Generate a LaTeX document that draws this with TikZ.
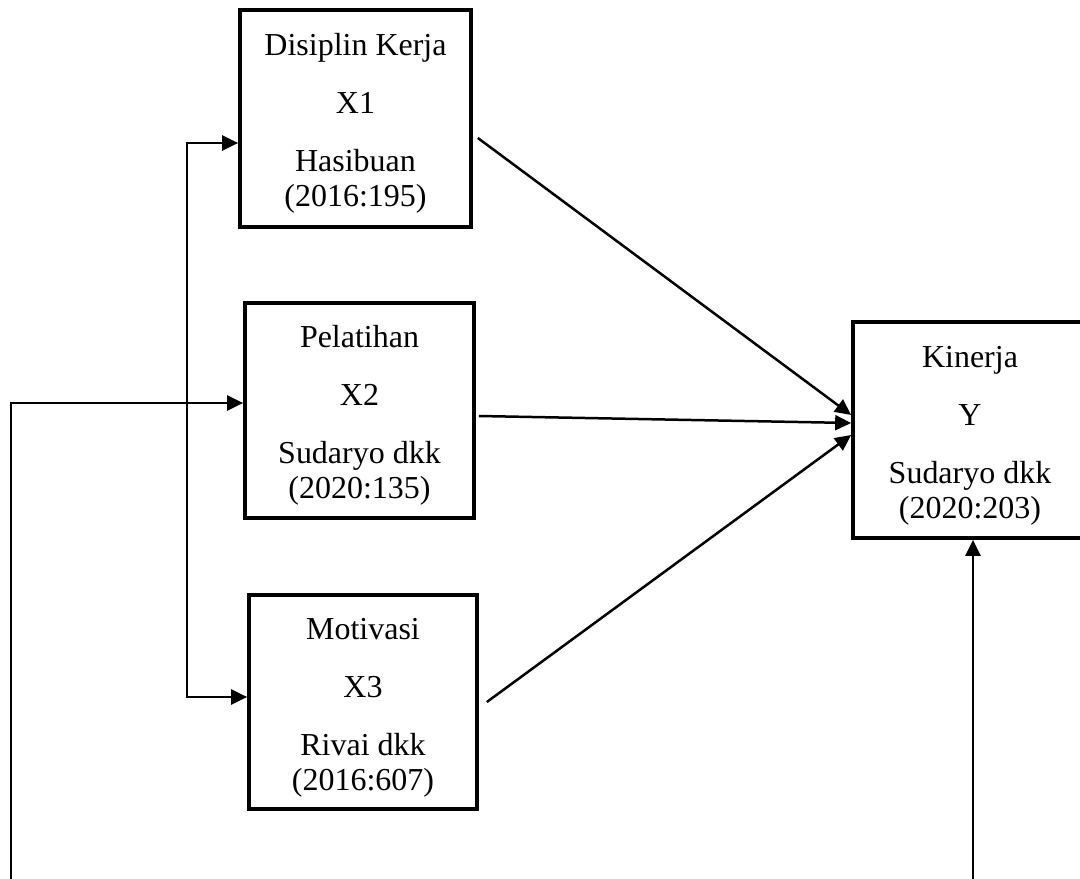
\documentclass[tikz,border=0pt]{standalone}
\usepackage{fontspec}
\setmainfont{Liberation Serif}
\usetikzlibrary{arrows.meta}
\definecolor{frameInk}{RGB}{0,0,0}
\newcommand{\toppad}{\rule{0pt}{0.64cm}}

\begin{document}
\begin{tikzpicture}[
    x=0.02cm, y=-0.02cm,
    varbox/.style={draw=frameInk, line width=0.075cm, minimum width=4.6cm, minimum height=4.32cm, align=center, inner sep=0pt,
        font=\fontsize{18.2}{19.9}\selectfont},
    arrow/.style={-{Triangle[length=0.32cm,width=0.3cm]}, line width=0.05cm, draw=frameInk},
    twoway/.style={{Triangle[length=0.32cm,width=0.3cm]}-{Triangle[length=0.32cm,width=0.3cm]}, line width=0.05cm, draw=frameInk}
]
    \useasboundingbox (0,0) rectangle (1080,879);
    \clip (0,0) rectangle (1080,879);

    \node[varbox, minimum width=4.62cm, minimum height=4.34cm] (disiplin) at (355.5,118.5) {\toppad Disiplin Kerja\\[0.46cm]X1\\[0.46cm]Hasibuan\\(2016:195)};
    \node[varbox, minimum width=4.58cm, minimum height=4.3cm] (pelatihan) at (359.5,410.5) {\toppad Pelatihan\\[0.46cm]X2\\[0.46cm]Sudaryo dkk\\(2020:135)};
    \node[varbox, minimum width=4.56cm, minimum height=4.28cm] (motivasi) at (363,702) {\toppad Motivasi\\[0.46cm]X3\\[0.46cm]Rivai dkk\\(2016:607)};
    \node[varbox, minimum width=4.68cm, minimum height=4.32cm] (kinerja) at (970,430) {\toppad Kinerja\\[0.46cm]Y\\[0.46cm]Sudaryo dkk\\(2020:203)};

    \coordinate (split) at (187,420);
    \coordinate (leftfoot) at (11,879);
    \coordinate (rightfoot) at (973,879);

    % paths into Y
    \draw[arrow] ([shift={(5,19.5)}]disiplin.east) -- ([shift={(0,-15)}]kinerja.west);
    \draw[arrow] ([shift={(3,5.5)}]pelatihan.east) -- ([shift={(0,-7)}]kinerja.west);
    \draw[arrow] ([shift={(8,0)}]motivasi.east) -- ([shift={(0,5)}]kinerja.west);

    % outer lines
    \draw[twoway] ([shift={(0,24.5)}]disiplin.west) -| (split) |- ([shift={(0,-5)}]motivasi.west);
    \draw[arrow] (leftfoot) |- ([shift={(0,-7.5)}]pelatihan.west);
    \draw[arrow] (rightfoot) -- (rightfoot |- kinerja.south);
\end{tikzpicture}
\end{document}
